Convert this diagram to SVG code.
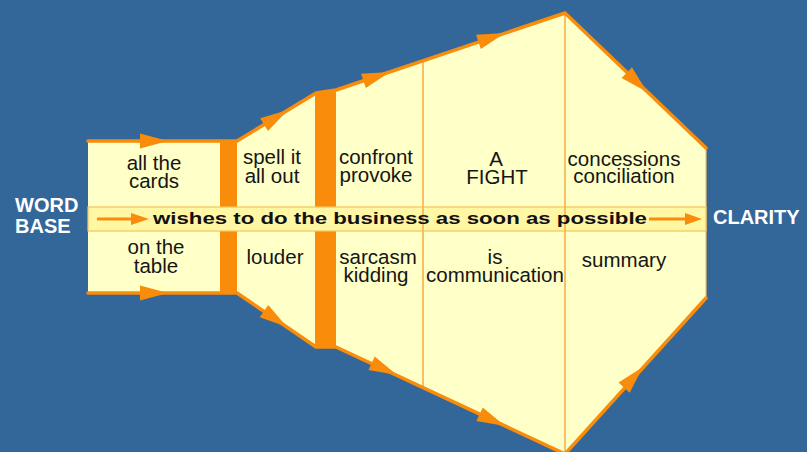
<svg xmlns="http://www.w3.org/2000/svg" width="807" height="452" viewBox="0 0 807 452">
  <defs>
    <style>
      .edge { fill: none; stroke: #f98c0a; stroke-width: 3.5; stroke-linejoin: round; stroke-linecap: round; }
      .bar { fill: #f98c0a; }
      .divider { stroke: #f2b24e; stroke-width: 1.6; }
      .lbl { font-family: "Liberation Sans", Arial, sans-serif; font-size: 20.5px; fill: #151515; text-anchor: middle; }
      .side { font-family: "Liberation Sans", Arial, sans-serif; font-size: 20px; font-weight: bold; fill: #ffffff; }
      .band-text { font-family: "Liberation Sans", Arial, sans-serif; font-size: 17px; font-weight: bold; fill: #111111; }
      .head { fill: #f98c0a; }
    </style>
    <path id="arrowhead" d="M0,0 L-28,-7.5 L-28,7.5 Z"/>
  </defs>

  <!-- backdrop -->
  <rect width="807" height="452" fill="#336699"/>

  <!-- funnel body -->
  <g id="funnel">
    <polygon points="88,141 237,141 316,93 336,90 565,13 706,148 706,298 565,454 336,347 316,347 237,293 88,293" fill="#ffffc8"/>
    <line x1="706" y1="148" x2="706" y2="298" stroke="#f5c266" stroke-width="1.2"/>
  </g>

  <!-- phase dividers -->
  <g id="dividers">
    <rect class="bar" x="220" y="141" width="17" height="152"/>
    <rect class="bar" x="315" y="92" width="21" height="256"/>
    <line class="divider" x1="423" y1="61" x2="423" y2="387"/>
  </g>

  <!-- central band -->
  <g id="band">
    <rect x="88" y="207" width="618" height="24" fill="#fff7a4" stroke="#f6c35c" stroke-width="1.2"/>
    <line class="divider" x1="565" y1="13" x2="565" y2="454"/>
    <line class="divider" x1="423" y1="207" x2="423" y2="231"/>
    <text class="band-text" x="153" y="224" textLength="494" lengthAdjust="spacingAndGlyphs">wishes to do the business as soon as possible</text>
  </g>

  <!-- outline edges and flow arrows -->
  <g id="connectors">
    <path class="edge" d="M88,141 H237 L316,93 L336,90 L565,13 L706,148"/>
    <path class="edge" d="M88,293 H237 L316,347 L336,347 L565,454 L706,298"/>
    <use href="#arrowhead" class="head" transform="translate(168,141)"/>
    <use href="#arrowhead" class="head" transform="translate(168,293)"/>
    <use href="#arrowhead" class="head" transform="translate(288,110) rotate(-31.3)"/>
    <use href="#arrowhead" class="head" transform="translate(390,72) rotate(-18.5)"/>
    <use href="#arrowhead" class="head" transform="translate(505,33) rotate(-18.5)"/>
    <use href="#arrowhead" class="head" transform="translate(647,92) rotate(43.8)"/>
    <use href="#arrowhead" class="head" transform="translate(287,327) rotate(34.7)"/>
    <use href="#arrowhead" class="head" transform="translate(397,375) rotate(24.9)"/>
    <use href="#arrowhead" class="head" transform="translate(505,426) rotate(24.9)"/>
    <use href="#arrowhead" class="head" transform="translate(643,367) rotate(-47.5)"/>
    <!-- band arrows -->
    <line x1="97" y1="219" x2="134" y2="219" stroke="#f98c0a" stroke-width="3"/>
    <polygon class="head" points="149,219 131,213 131,225"/>
    <line x1="649" y1="219" x2="688" y2="219" stroke="#f98c0a" stroke-width="3"/>
    <polygon class="head" points="702,219 685,213 685,225"/>
  </g>

  <!-- end labels -->
  <g id="word-base">
    <text class="side" x="15" y="212">WORD</text>
    <text class="side" x="15" y="233">BASE</text>
  </g>
  <g id="clarity">
    <text class="side" x="713" y="224">CLARITY</text>
  </g>

  <!-- upper cells -->
  <g id="cell-cards">
    <text class="lbl" x="154" y="170">all the</text>
    <text class="lbl" x="154" y="188">cards</text>
  </g>
  <g id="cell-spell">
    <text class="lbl" x="272" y="164">spell it</text>
    <text class="lbl" x="272" y="183">all out</text>
  </g>
  <g id="cell-confront">
    <text class="lbl" x="376" y="164">confront</text>
    <text class="lbl" x="376" y="182">provoke</text>
  </g>
  <g id="cell-fight">
    <text class="lbl" x="496" y="166">A</text>
    <text class="lbl" x="497" y="184">FIGHT</text>
  </g>
  <g id="cell-concessions">
    <text class="lbl" x="624" y="166">concessions</text>
    <text class="lbl" x="624" y="183">conciliation</text>
  </g>

  <!-- lower cells -->
  <g id="cell-table">
    <text class="lbl" x="156" y="254">on the</text>
    <text class="lbl" x="156" y="273">table</text>
  </g>
  <g id="cell-louder">
    <text class="lbl" x="275" y="264">louder</text>
  </g>
  <g id="cell-sarcasm">
    <text class="lbl" x="378" y="264">sarcasm</text>
    <text class="lbl" x="376" y="282">kidding</text>
  </g>
  <g id="cell-communication">
    <text class="lbl" x="495" y="264">is</text>
    <text class="lbl" x="495" y="282">communication</text>
  </g>
  <g id="cell-summary">
    <text class="lbl" x="624" y="267">summary</text>
  </g>
</svg>
